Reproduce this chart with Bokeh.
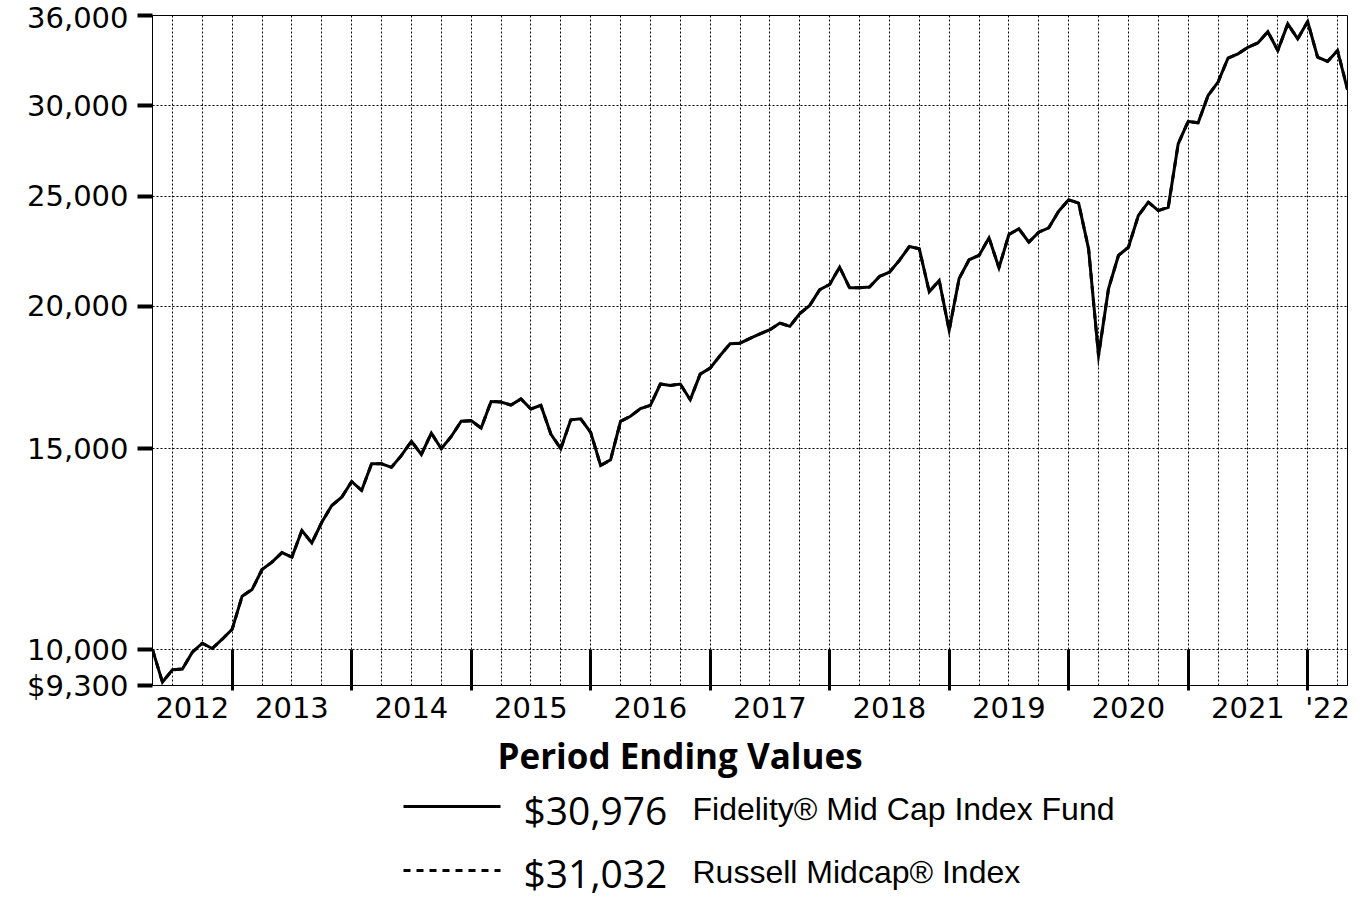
import numpy as np
import pandas as pd
from bokeh.plotting import figure
from bokeh.models import Range1d, FixedTicker
from bokeh.layouts import column
from bokeh.core.properties import value
from bokeh.embed import file_html
from bokeh.resources import INLINE

# ---------------- data ----------------
months = pd.date_range("2012-04-30", "2022-04-30", freq="ME")  # month ends

fund_values = [
    10000, 9362, 9600, 9615, 9947, 10129, 10022, 10212, 10420, 11139,
    11290, 11755, 11932, 12165, 12053, 12720, 12406, 12934, 13378, 13604,
    14043, 13790, 14555, 14555, 14452, 14802, 15234, 14831, 15485, 15003,
    15380, 15859, 15880, 15645, 16508, 16490, 16390, 16594, 16258, 16380,
    15457, 15003, 15905, 15940, 15509, 14504, 14672, 15859, 16022, 16270,
    16380, 17100, 17051, 17100, 16563, 17446, 17657, 18114, 18550, 18570,
    18748, 18923, 19084, 19341, 19214, 19714, 20044, 20688, 20909, 21653,
    20768, 20768, 20800, 21249, 21433, 21949, 22575, 22470, 20601, 21076,
    19059, 21160, 21978, 22171, 22975, 21625, 23128, 23398, 22776, 23238,
    23443, 24246, 24811, 24640, 22470, 18114, 20730, 22171, 22541, 24034,
    24691, 24276, 24438, 27782, 29064, 28983, 30628, 31467, 33024, 33315,
    33761, 34061, 34843, 33543, 35397, 34342, 35561, 33093, 32807, 33543,
    30976,
]

index_values = [
    10000, 9362, 9600, 9615, 9947, 10129, 10022, 10212, 10420, 11139,
    11290, 11755, 11932, 12165, 12053, 12720, 12406, 12934, 13378, 13604,
    14043, 13790, 14555, 14555, 14452, 14802, 15234, 14831, 15485, 15003,
    15380, 15859, 15880, 15645, 16508, 16490, 16390, 16594, 16258, 16380,
    15457, 15003, 15905, 15940, 15509, 14504, 14672, 15859, 16022, 16270,
    16380, 17100, 17051, 17100, 16563, 17446, 17657, 18114, 18550, 18570,
    18748, 18923, 19084, 19341, 19214, 19714, 20044, 20688, 20909, 21653,
    20768, 20768, 20800, 21249, 21433, 21949, 22575, 22470, 20601, 21076,
    19059, 21160, 21978, 22171, 22975, 21625, 23128, 23398, 22776, 23238,
    23443, 24246, 24811, 24640, 22470, 18114, 20730, 22171, 22541, 24034,
    24691, 24276, 24438, 27782, 29064, 28983, 30628, 31467, 33024, 33315,
    33761, 34061, 34843, 33543, 35397, 34342, 35561, 33093, 32807, 33543,
    31032,
]

series_names = ["Fidelity\u00ae Mid Cap Index Fund", "Russell Midcap\u00ae Index"]
end_values = [30976, 31032]
series_dashes = ["solid", "7 6"]

y_ticks = [9300, 10000, 15000, 20000, 25000, 30000, 36000]
y_grid_ticks = [10000, 15000, 20000, 25000, 30000]
year_labels = ["2012", "2013", "2014", "2015", "2016", "2017",
               "2018", "2019", "2020", "2021", "'22"]

# ---------------- derived tick positions ----------------
x = np.arange(len(months))
n_last = len(months) - 1
month_nums = [int(m.month) for m in months]
year_starts = [k for k in range(n_last) if month_nums[k] == 12]        # Dec 31 ~ Jan 1
bounds = [0] + year_starts + [n_last]
label_pos = [(bounds[k] + bounds[k + 1]) / 2 for k in range(len(bounds) - 1)]
quarter_lines = [k for k in range(1, n_last) if month_nums[k] in (3, 6, 9, 12)]

# ---------------- main chart ----------------
p = figure(width=1363, height=733, y_axis_type="log",
           x_range=Range1d(0, n_last), y_range=Range1d(9300, 36000),
           output_backend="svg", toolbar_location=None,
           min_border_left=152, min_border_right=16,
           min_border_top=15, min_border_bottom=48)
p.background_fill_color = "white"
p.border_fill_color = "white"
p.outline_line_color = "black"
p.outline_line_width = 1

p.line(x, index_values, line_color="black", line_width=3,
       line_dash=series_dashes[1])
p.line(x, fund_values, line_color="black", line_width=3,
       line_dash=series_dashes[0], line_join="miter")

# x axis
p.xaxis.ticker = FixedTicker(ticks=label_pos, minor_ticks=year_starts)
p.xaxis.major_label_overrides = {pos: lab for pos, lab in zip(label_pos, year_labels)}
p.xaxis.major_tick_line_color = None
p.xaxis.major_tick_out = 0
p.xaxis.major_tick_in = 0
p.xaxis.minor_tick_line_color = "black"
p.xaxis.minor_tick_line_width = 3
p.xaxis.minor_tick_in = 36
p.xaxis.minor_tick_out = 5
p.xaxis.major_label_standoff = 0
p.xaxis.major_label_text_font = "DejaVu Sans"
p.xaxis.major_label_text_font_size = "29px"
p.xaxis.major_label_text_color = "black"
p.xaxis.axis_line_color = "black"
p.xaxis.axis_line_width = 1

# y axis
p.yaxis.ticker = FixedTicker(ticks=y_ticks, minor_ticks=[])
p.yaxis.major_label_overrides = {
    t: ("$" if t == y_ticks[0] else "") + f"{t:,}" for t in y_ticks}
p.yaxis.major_tick_line_color = "black"
p.yaxis.major_tick_line_width = 4
p.yaxis.major_tick_out = 15
p.yaxis.major_tick_in = 0
p.yaxis.major_label_standoff = 9
p.yaxis.major_label_text_font = "DejaVu Sans"
p.yaxis.major_label_text_font_size = "29px"
p.yaxis.major_label_text_color = "black"
p.yaxis.axis_line_color = "black"
p.yaxis.axis_line_width = 1

# grids
p.xgrid.ticker = FixedTicker(ticks=quarter_lines, minor_ticks=[])
p.ygrid.ticker = FixedTicker(ticks=y_grid_ticks, minor_ticks=[])
for g in (p.xgrid, p.ygrid):
    g.grid_line_color = "black"
    g.grid_line_width = 1
    g.grid_line_dash = "2 2"
    g.grid_line_alpha = 1
    g.minor_grid_line_color = None

# ---------------- legend panel (frame aligned with chart frame) ----------------
H2 = 921 - 733
q = figure(width=1363, height=H2, x_range=Range1d(152, 1347),
           y_range=Range1d(H2, 0), output_backend="svg",
           toolbar_location=None, min_border=0,
           x_axis_location=None, y_axis_location=None)
q.grid.visible = False
q.outline_line_color = None
q.background_fill_color = "white"
q.border_fill_color = "white"

q.text(x=[497], y=[22], text=["Period Ending Values"],
       text_font=value("Open Sans"), text_font_style="bold",
       text_font_size="35px", text_color="black",
       text_baseline="alphabetic", text_align="left")

row_line_y = [73, 137]
row_text_y = [76, 139]
for k in range(len(series_names)):
    q.line(x=[403, 500], y=[row_line_y[k], row_line_y[k]],
           line_color="black", line_width=3, line_dash=series_dashes[k])
    q.text(x=[523], y=[row_text_y[k]], text=[f"${end_values[k]:,}"],
           text_font=value("Open Sans"), text_font_size="39px",
           text_color="black", text_baseline="alphabetic", text_align="left")
    q.text(x=[692], y=[row_text_y[k] - 1], text=[series_names[k]],
           text_font=value("Liberation Sans"), text_font_size="32px",
           text_color="black", text_baseline="alphabetic", text_align="left")

layout = column(p, q, spacing=0)
open("out.html", "w").write(file_html(layout, INLINE))
